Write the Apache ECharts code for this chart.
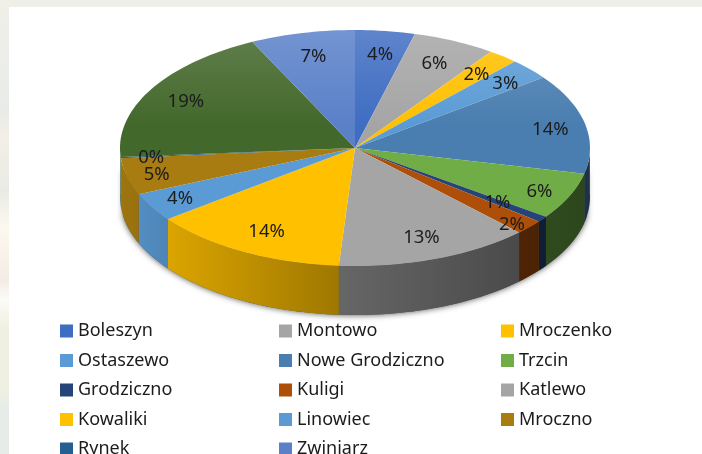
<!DOCTYPE html>
<html>
<head>
<meta charset="utf-8">
<style>
html, body { margin: 0; padding: 0; background: #fff; overflow: hidden; }
#chart { width: 702px; height: 454px; filter: blur(0.5px); }
</style>
<script src="https://cdn.jsdelivr.net/npm/echarts@6/dist/echarts.min.js"></script>
</head>
<body>
<div id="chart"></div>
<script>
// in percent; the green slice has no legend entry
var categories = ['Boleszyn', 'Montowo', 'Mroczenko', 'Ostaszewo', 'Nowe Grodziczno', 'Trzcin', 'Grodziczno',
    'Kuligi', 'Katlewo', 'Kowaliki', 'Linowiec', 'Mroczno', 'Rynek', '', 'Zwiniarz'];
var values = [4.1, 5.7, 2.1, 2.9, 13.7, 6.4, 0.8, 2.0, 13.4, 13.6, 3.9, 5.0, 0.2, 19.0, 7.2];

var colors = ['#3f6dc2', '#a5a5a5', '#ffc000', '#5b9bd5', '#4a7eb0', '#70ad47', '#264478',
    '#ad4f08', '#a5a5a5', '#ffc000', '#5b9bd5', '#a87c10', '#255e91', '#43682b', '#5a80c8'];
var legendColumns = [
    ['Boleszyn', 'Ostaszewo', 'Grodziczno', 'Kowaliki', 'Rynek'],
    ['Montowo', 'Nowe Grodziczno', 'Kuligi', 'Linowiec', 'Zwiniarz'],
    ['Mroczenko', 'Trzcin', 'Katlewo', 'Mroczno']
];
var legendLeft = [60, 279, 501];

// where each label sits, as a share of the radius across and down
var labelFit = [[.83, .8], [.8, .785], [.82, .8], [.86, .81], [.85, .73], [.86, .9], [.76, .77], [.9, .97],
    [.82, .81], [.79, .81], [.86, .86], [.87, .93], [.87, 1], [.83, .78], [.79, .79]];

var cx = 355, cy = 148, rx = 235, ry = 118, depth = 49;
var labelFont = '18.5px "Noto Sans"';

var total = values.reduce(function (a, b) { return a + b; }, 0);
var starts = [];
values.reduce(function (sum, v, i) { starts[i] = sum; return sum + v; }, 0);

function rim(deg, down) {
    var a = deg * Math.PI / 180;
    return [cx + rx * Math.sin(a), cy - ry * Math.cos(a) + (down || 0)];
}
function arc(from, to, down) {
    var pts = [], n = Math.max(2, Math.ceil((to - from) / 1.5));
    for (var k = 0; k <= n; k++) {
        pts.push(rim(from + (to - from) * k / n, down));
    }
    return pts;
}
// k > 0 goes towards white, k < 0 towards black
function shade(hex, k) {
    var out = [1, 3, 5].map(function (p) {
        var c = parseInt(hex.substr(p, 2), 16);
        return Math.round(k > 0 ? c + (255 - c) * k : c * (1 + k));
    });
    return 'rgb(' + out.join(',') + ')';
}
function wallGradient(color) {
    return new echarts.graphic.LinearGradient(120, 0, 590, 0, [
        { offset: 0, color: shade(color, -.06) },
        { offset: .1, color: shade(color, -.14) },
        { offset: .47, color: shade(color, -.38) },
        { offset: .85, color: shade(color, -.55) },
        { offset: 1, color: shade(color, -.6) }
    ], true);
}
function topGradient(color) {
    return new echarts.graphic.LinearGradient(0, 30, 0, 125, [
        { offset: 0, color: shade(color, .16) },
        { offset: 1, color: color }
    ], true);
}

function sliceSeries(i) {
    return {
        type: 'custom',
        name: categories[i],
        coordinateSystem: 'none',
        silent: true,
        itemStyle: { color: colors[i] },
        data: [values[i]],
        renderItem: function () {
            var from = starts[i] / total * 360, to = (starts[i] + values[i]) / total * 360;
            var mid = (from + to) / 2 * Math.PI / 180;
            var children = [];

            // only the front half of the rim shows a wall
            var wFrom = Math.max(from, 88), wTo = Math.min(to, 272);
            if (wTo > wFrom) {
                children.push({
                    type: 'polygon', z2: 1,
                    shape: { points: arc(wFrom, wTo, 0).concat(arc(wFrom, wTo, depth).reverse()) },
                    style: { fill: wallGradient(colors[i]) }
                });
            }
            children.push({
                type: 'polygon', z2: 2,
                shape: { points: [[cx, cy]].concat(arc(from, to, 0)) },
                style: { fill: topGradient(colors[i]) }
            });
            children.push({
                type: 'text', z2: 3,
                style: {
                    text: Math.round(values[i]) + '%',
                    x: cx + rx * labelFit[i][0] * Math.sin(mid),
                    y: cy - ry * labelFit[i][1] * Math.cos(mid),
                    align: 'center', verticalAlign: 'middle',
                    font: labelFont, fill: '#1c1c1c'
                }
            });
            return { type: 'group', children: children };
        }
    };
}

var series = categories.map(function (name, i) { return sliceSeries(i); });

var legends = legendColumns.map(function (names, c) {
    return {
        orient: 'vertical',
        left: legendLeft[c],
        top: 322,
        height: 170,
        padding: 0,
        icon: 'rect',
        itemWidth: 13,
        itemHeight: 13,
        itemGap: 11.5,
        selectedMode: false,
        textStyle: { fontFamily: 'Noto Sans', fontSize: 18, color: '#1c1c1c' },
        data: names.map(function (n) {
            return { name: n, itemStyle: { color: colors[categories.indexOf(n)] } };
        })
    };
});

var chart = echarts.init(document.getElementById('chart'));
chart.setOption({
    animation: false,
    backgroundColor: '#fff',
    legend: legends,
    // the strip of page background showing round the white panel
    graphic: [
        { type: 'rect', shape: { x: 0, y: 0, width: 702, height: 7 }, style: { fill: '#efefe9' } },
        {
            type: 'rect', shape: { x: 0, y: 0, width: 9, height: 454 },
            style: {
                fill: new echarts.graphic.LinearGradient(0, 0, 0, 1, [
                    { offset: 0, color: '#f0f0e8' },
                    { offset: .24, color: '#e8ebe8' },
                    { offset: .3, color: '#f3efe6' },
                    { offset: .42, color: '#e8ebe4' },
                    { offset: .5, color: '#fdf8ef' },
                    { offset: .62, color: '#f3ece5' },
                    { offset: .66, color: '#fbfbf8' },
                    { offset: .72, color: '#f0f0e2' },
                    { offset: .86, color: '#f0f0e2' },
                    { offset: .9, color: '#e6ece8' },
                    { offset: 1, color: '#e6ece8' }
                ])
            }
        },
        {
            // soft shadow that creeps out from behind the wall
            type: 'polygon', z: -1,
            shape: { points: arc(100, 260, 0).concat(arc(100, 260, depth).reverse()) },
            style: { fill: '#555', shadowColor: 'rgba(0,0,0,.7)', shadowBlur: 6 }
        }
    ],
    series: series
});
</script>
</body>
</html>
